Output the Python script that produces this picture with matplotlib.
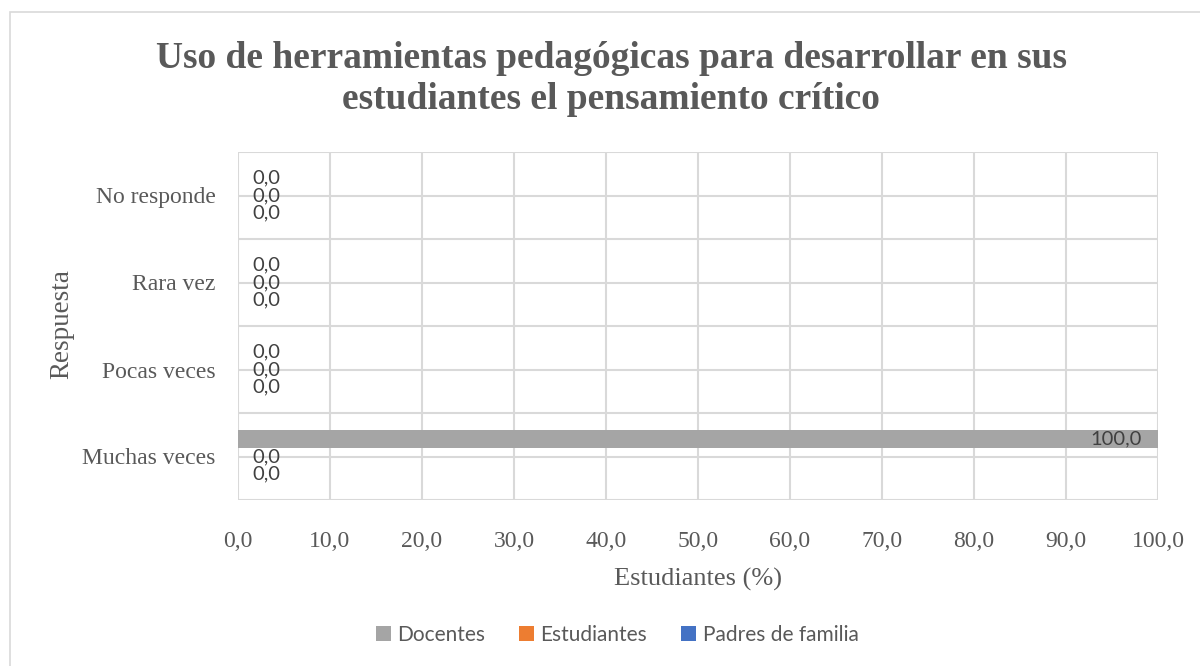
import numpy as np
import matplotlib.pyplot as plt
from matplotlib.patches import Rectangle

# data (bottom -> top on the chart)
categories = ['Muchas veces', 'Pocas veces', 'Rara vez', 'No responde']
series_names = ['Docentes', 'Estudiantes', 'Padres de familia']
docentes = [100.0, 0.0, 0.0, 0.0]
estudiantes = [0.0, 0.0, 0.0, 0.0]
padres = [0.0, 0.0, 0.0, 0.0]
xticks = [0, 10, 20, 30, 40, 50, 60, 70, 80, 90, 100]

colors = ['#A5A5A5', '#ED7D31', '#4472C4']
grid_c = '#D9D9D9'
text_c = '#595959'
serif = 'Liberation Serif'
sans = 'Lato'

fig = plt.figure(figsize=(12, 6.66), dpi=100)
ax = fig.add_axes([238 / 1200, 1 - 500 / 666, 920 / 1200, 348 / 666])

# outer chart frame
fig.patches.append(Rectangle((10 / 1200, -0.01), 1.2, 1 - 12 / 666 + 0.01,
                             transform=fig.transFigure, fill=False,
                             edgecolor=grid_c, linewidth=1.2))

y = np.arange(len(categories))
h = 0.2
offsets = [h, 0, -h]
all_vals = [docentes, estudiantes, padres]

# gridlines
for xv in xticks:
    ax.axvline(xv, color=grid_c, linewidth=1.5, zorder=0)
for yv in np.arange(-0.5, len(categories), 0.5):
    ax.axhline(yv, color=grid_c, linewidth=1.5, zorder=0)

for vals, off, col, name in zip(all_vals, offsets, colors, series_names):
    ax.barh(y + off, vals, height=h, color=col, label=name, zorder=2)
    for yi, v in zip(y, vals):
        lbl = f'{v:.1f}'.replace('.', ',')
        if v >= 50:
            ax.annotate(lbl, (v, yi + off), xytext=(-16, 0), textcoords='offset pixels',
                        ha='right', va='center', fontsize=14.5, color='#404040',
                        family=sans, zorder=3)
        else:
            ax.annotate(lbl, (v, yi + off), xytext=(14, 0), textcoords='offset pixels',
                        ha='left', va='center', fontsize=14.5, color='#404040',
                        family=sans, zorder=3)

ax.set_xlim(0, 100)
ax.set_ylim(-0.5, len(categories) - 0.5)
ax.set_xticks(xticks)
ax.set_xticklabels([f'{t:.1f}'.replace('.', ',') for t in xticks],
                   family=serif, fontsize=17, color=text_c)
ax.set_yticks(y)
ax.set_yticklabels(categories, family=serif, fontsize=17, color=text_c)
ax.tick_params(axis='both', length=0)
ax.tick_params(axis='x', pad=22)
ax.tick_params(axis='y', pad=16)
for s in ax.spines.values():
    s.set_visible(False)

ax.set_xlabel('Estudiantes (%)', family=serif, fontsize=19, color=text_c, labelpad=12)
fig.text(62 / 1200, 1 - 324 / 666, 'Respuesta', rotation=90, ha='center', va='center',
         family=serif, fontsize=19.5, color=text_c)

fig.text(611 / 1200, 1 - 79 / 666,
         'Uso de herramientas pedagógicas para desarrollar en sus\nestudiantes el pensamiento crítico',
         ha='center', va='center', family=serif, fontsize=27, fontweight='bold',
         color=text_c, linespacing=1.25)

leg = fig.legend(loc='center', bbox_to_anchor=(617 / 1200, 1 - 635 / 666), ncol=3, frameon=False,
                 prop={'family': sans, 'size': 15}, handlelength=0.75, handleheight=0.75,
                 handletextpad=0.3, columnspacing=1.6)
for t in leg.get_texts():
    t.set_color(text_c)

fig.savefig('out.png', dpi=100)
